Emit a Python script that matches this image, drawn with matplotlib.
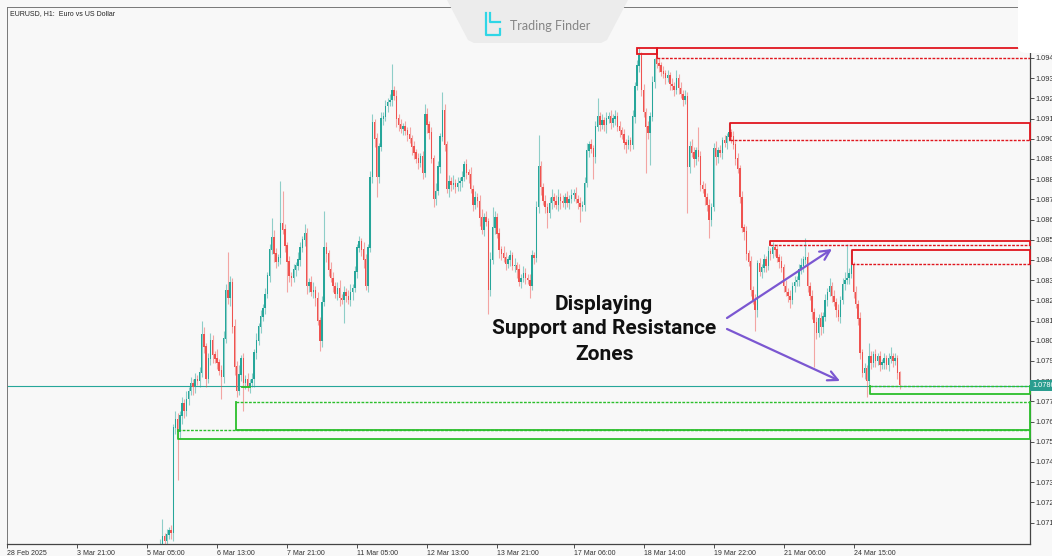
import numpy as np
import matplotlib.pyplot as plt
from matplotlib.patches import Polygon, Rectangle, FancyBboxPatch

# H1 candles, prices in pips above BASE (open = previous close)
BASE = 1.0700
FIRST_BAR = 70
first_open = 6
closes = [
    8, 12, 10, 13, 15, 14, 66, 70, 64, 72,
    78, 74, 80, 84, 88, 86, 90, 89, 93, 112,
    106, 90, 100, 109, 102, 100, 98, 94, 91, 110,
    134, 130, 138, 116, 96, 84, 92, 100, 88, 90,
    86, 88, 90, 103, 109, 116, 121, 125, 132, 141,
    154, 160, 152, 148, 150, 167, 164, 156, 148, 141,
    140, 144, 146, 149, 155, 159, 162, 136, 138, 133,
    134, 130, 119, 109, 128, 155, 152, 144, 140, 136,
    132, 135, 130, 129, 133, 131, 129, 133, 135, 143,
    155, 158, 154, 149, 136, 155, 190, 217, 209, 190,
    205, 219, 220, 225, 227, 228, 233, 230, 219, 216,
    214, 215, 213, 211, 209, 205, 202, 199, 197, 200,
    192, 221, 216, 212, 199, 179, 183, 195, 210, 223,
    206, 184, 188, 186, 187, 185, 187, 188, 190, 196,
    192, 191, 184, 176, 180, 178, 170, 164, 170, 168,
    134, 149, 165, 170, 162, 154, 152, 150, 147, 149,
    151, 146, 146, 144, 138, 140, 142, 140, 139, 136,
    151, 150, 175, 195, 185, 178, 175, 172, 177, 180,
    178, 176, 180, 178, 177, 180, 177, 179, 181, 182,
    179, 177, 175, 176, 187, 203, 206, 204, 200, 215,
    220, 216, 218, 216, 219, 220, 217, 219, 220, 215,
    213, 211, 207, 206, 208, 206, 220, 235, 245, 250,
    233, 222, 215, 212, 220, 237, 248, 246, 245, 242,
    241, 239, 240, 236, 235, 233, 239, 234, 231, 228,
    230, 195, 205, 202, 199, 203, 200, 186, 184, 180,
    176, 169, 175, 204, 200, 203, 202, 208, 207, 210,
    212, 210, 206, 199, 194, 180, 165, 163, 152, 148,
    134, 129, 124, 147, 143, 145, 149, 146, 153, 152,
    155, 154, 150, 148, 145, 136, 133, 131, 129, 136,
    138, 139, 144, 146, 149, 150, 136, 131, 123, 118,
    113, 120, 116, 121, 129, 133, 136, 131, 128, 124,
    121, 129, 137, 139, 140, 142, 146, 133, 127, 120,
    103, 93, 95, 89, 101, 98, 102, 99, 101, 97,
    98, 100, 97, 100, 101, 99, 100, 93, 87,
]
upper_wick = [
    3, 9, 2, 3, 2, 3, 2, 4, 3, 2,
    3, 2, 4, 2, 3, 2, 3, 2, 3, 7,
    4, 2, 3, 4, 3, 2, 5, 2, 3, 4,
    3, 19, 3, 2, 4, 3, 5, 2, 3, 2,
    3, 2, 3, 2, 4, 2, 3, 2, 3, 2,
    3, 10, 4, 3, 2, 21, 16, 3, 2, 3,
    2, 3, 2, 4, 3, 2, 5, 3, 2, 3,
    4, 2, 3, 2, 3, 18, 3, 2, 4, 3,
    2, 3, 4, 2, 3, 2, 3, 4, 2, 3,
    2, 3, 2, 4, 3, 2, 3, 4, 2, 3,
    2, 3, 2, 3, 2, 3, 13, 2, 3, 2,
    3, 2, 3, 2, 4, 2, 3, 2, 3, 2,
    3, 5, 3, 2, 3, 2, 4, 3, 2, 9,
    3, 2, 3, 2, 4, 2, 3, 2, 3, 2,
    3, 2, 4, 2, 3, 2, 3, 4, 2, 3,
    2, 4, 10, 3, 2, 3, 2, 4, 3, 2,
    3, 2, 4, 2, 3, 2, 4, 3, 2, 3,
    3, 2, 3, 16, 3, 2, 3, 2, 3, 4,
    2, 3, 4, 2, 3, 2, 3, 2, 3, 2,
    3, 2, 3, 2, 3, 4, 2, 3, 2, 3,
    9, 2, 3, 2, 3, 2, 3, 2, 3, 2,
    3, 2, 3, 2, 3, 2, 3, 2, 3, 4,
    2, 3, 2, 3, 2, 3, 1, 2, 3, 2,
    3, 2, 3, 2, 3, 2, 4, 2, 3, 2,
    3, 2, 3, 4, 3, 2, 12, 3, 2, 3,
    2, 3, 2, 3, 4, 2, 3, 2, 3, 2,
    5, 2, 3, 2, 3, 2, 3, 2, 3, 2,
    3, 2, 3, 2, 3, 2, 3, 2, 3, 2,
    3, 2, 3, 2, 3, 2, 3, 2, 3, 2,
    3, 2, 3, 4, 2, 10, 3, 2, 3, 2,
    3, 2, 3, 2, 3, 2, 4, 2, 3, 2,
    3, 2, 3, 4, 17, 3, 8, 2, 3, 2,
    3, 2, 3, 2, 7, 3, 2, 3, 2, 3,
    2, 3, 2, 3, 5, 2, 3, 2, 1,
]
lower_wick = [
    2, 3, 2, 3, 2, 3, 4, 3, 24, 3,
    4, 3, 2, 3, 2, 4, 3, 2, 3, 2,
    3, 4, 2, 3, 4, 2, 3, 2, 11, 3,
    2, 3, 4, 3, 4, 3, 2, 3, 14, 3,
    2, 3, 2, 4, 3, 2, 3, 2, 3, 2,
    3, 2, 4, 3, 2, 3, 2, 3, 15, 3,
    4, 2, 3, 2, 3, 2, 3, 4, 3, 2,
    3, 4, 2, 5, 3, 2, 4, 3, 2, 3,
    2, 3, 4, 2, 11, 3, 2, 3, 4, 2,
    3, 2, 3, 4, 2, 3, 2, 3, 4, 10,
    3, 2, 3, 2, 3, 2, 3, 2, 4, 3,
    2, 3, 2, 3, 2, 4, 3, 2, 3, 2,
    3, 2, 4, 3, 2, 4, 3, 2, 3, 2,
    3, 2, 4, 3, 2, 3, 2, 4, 3, 2,
    3, 4, 2, 3, 2, 3, 4, 2, 3, 2,
    12, 3, 2, 3, 2, 4, 3, 2, 3, 2,
    3, 2, 3, 4, 2, 3, 2, 3, 2, 6,
    2, 3, 2, 3, 4, 2, 3, 7, 2, 3,
    3, 2, 3, 4, 2, 3, 2, 3, 2, 3,
    2, 3, 7, 2, 3, 2, 3, 2, 11, 3,
    2, 3, 2, 3, 4, 2, 3, 2, 3, 2,
    3, 2, 3, 4, 2, 3, 2, 3, 2, 3,
    3, 2, 23, 3, 16, 2, 3, 2, 3, 2,
    2, 3, 2, 3, 2, 3, 2, 3, 2, 3,
    2, 23, 3, 2, 4, 3, 2, 3, 2, 4,
    3, 9, 3, 2, 4, 3, 2, 3, 2, 3,
    2, 3, 2, 3, 2, 3, 2, 4, 3, 2,
    3, 2, 10, 3, 2, 3, 2, 3, 2, 3,
    2, 3, 2, 3, 2, 3, 2, 3, 4, 2,
    3, 2, 3, 2, 3, 2, 3, 2, 3, 22,
    3, 2, 4, 3, 2, 3, 2, 3, 2, 3,
    2, 3, 2, 3, 2, 3, 2, 3, 2, 3,
    3, 2, 3, 8, 2, 3, 2, 3, 2, 3,
    2, 3, 2, 3, 2, 3, 2, 3, 2,
]

x_tick_bars = [0, 32, 64, 96, 128, 160, 192, 224, 259, 291, 323, 355, 387]
x_tick_labels = ['28 Feb 2025', '3 Mar 21:00', '5 Mar 05:00', '6 Mar 13:00',
                 '7 Mar 21:00', '11 Mar 05:00', '12 Mar 13:00', '13 Mar 21:00',
                 '17 Mar 06:00', '18 Mar 14:00', '19 Mar 22:00', '21 Mar 06:00',
                 '24 Mar 15:00']
price_ticks = [1.0719 + 0.001 * k for k in range(24)]

# zones: (start bar, top pips, bottom pips)
resistance_zones = [(297.1, 253.8, 248.9), (330.5, 216.8, 208.6),
                    (348.8, 158.2, 156.2), (386.3, 153.7, 147.0)]
support_zones = [(394.5, 86.6, 82.5), (104.7, 78.7, 64.6), (78.2, 64.6, 60.5)]
last_price = 1.07867

W, H = 1052, 556
BAR_PX = 2.1875
BULL, BEAR = '#26a69a', '#ef5350'
RED, GREEN = '#e0161e', '#2cbf2c'

plt.rcParams['font.family'] = ['Liberation Sans', 'DejaVu Sans']

fig = plt.figure(figsize=(W / 100, H / 100), dpi=100, facecolor='#f8f8f8')
ax = fig.add_axes([7 / W, 12 / H, 1023 / W, 537 / H], facecolor='#f8f8f8')
x_end = 1023 / BAR_PX
ax.set_xlim(0, x_end)
ax.set_ylim(1.07084, 1.09742)


def px(v):
    return BASE + v / 1e4


# candles
n = len(closes)
idx = np.arange(FIRST_BAR, FIRST_BAR + n)
c = px(np.array(closes, float))
o = np.r_[px(first_open), c[:-1]]
hi = np.maximum(o, c) + np.array(upper_wick) / 1e4
lo = np.minimum(o, c) - np.array(lower_wick) / 1e4
cols = np.where(c >= o, BULL, BEAR)
ax.vlines(idx, lo, hi, colors=cols, lw=0.8, alpha=0.5, zorder=2)
ax.bar(idx, np.abs(c - o) + 0.00003, bottom=np.minimum(o, c), width=0.65,
       color=cols, linewidth=0, zorder=3)

# current price line
ax.axhline(last_price, color=BULL, lw=0.8, zorder=1)

# resistance zones
for i, (start, top, bot) in enumerate(resistance_zones):
    t, b = px(top), px(bot)
    if i == 0:
        ax.plot([start, start, x_end], [b, t, t], color=RED, lw=1.3, zorder=4)
    else:
        ax.plot([start, start, x_end, x_end], [b, t, t, b], color=RED, lw=1.3,
                zorder=4, clip_on=False)
    ax.plot([start, x_end], [b, b], color=RED, lw=1.0, ls=(0, (2, 1)), zorder=4)
ax.add_patch(Rectangle((288.0, px(251.0)), 9.1, px(253.8) - px(251.0), fill=False,
                       ec=RED, lw=1.3, zorder=4))

# support zones
for start, top, bot in support_zones:
    t, b = px(top), px(bot)
    ax.plot([start, start, x_end, x_end], [t, b, b, t], color=GREEN, lw=1.3,
            zorder=4, clip_on=False)
    ax.plot([start, x_end], [t, t], color=GREEN, lw=1.0, ls=(0, (2, 1)), zorder=4)
ax.plot([107.4, 111.1], [px(86.1), px(86.1)], color=GREEN, lw=1.3, zorder=4)

# axes styling
ax.yaxis.tick_right()
ax.set_yticks(price_ticks)
ax.set_yticklabels([f'{p:.4f}' for p in price_ticks])
ax.set_xticks(x_tick_bars)
ax.set_xticklabels(x_tick_labels)
for lab in ax.get_xticklabels():
    lab.set_ha('left')
ax.tick_params(axis='y', length=3, width=0.6, color='#333333', labelsize=5.3,
               pad=1, labelcolor='#333333')
ax.tick_params(axis='x', length=3, width=0.6, color='#333333', labelsize=5,
               pad=1, labelcolor='#333333')
for side in ['left', 'top']:
    ax.spines[side].set_color('#777777')
    ax.spines[side].set_linewidth(0.7)
for side in ['right', 'bottom']:
    ax.spines[side].set_color('#444444')
    ax.spines[side].set_linewidth(0.9)

ax.text(1.0 + 2 / 1023, last_price, '1.0786', transform=ax.get_yaxis_transform(),
        fontsize=5.3, color='white', va='center', ha='left', clip_on=False, zorder=6,
        bbox=dict(boxstyle='square,pad=0.25', fc='#2a9d8f', ec='none'))

fig.text(10 / W, 1 - 14 / H, 'EURUSD, H1:  Euro vs US Dollar', fontsize=5,
         color='#222222', va='center')

# annotation
fig.text(604 / W, 1 - 329 / H, 'Displaying\nSupport and Resistance\nZones',
         ha='center', va='center', fontsize=15, fontweight='bold',
         family='Roboto', color='#111111', linespacing=1.4)
for tail, head in [((727, 318), (832, 249)), ((727, 329), (840, 381))]:
    ax.annotate('', xy=(head[0] / W, 1 - head[1] / H),
                xytext=(tail[0] / W, 1 - tail[1] / H),
                xycoords='figure fraction', textcoords='figure fraction',
                arrowprops=dict(arrowstyle='->,head_length=0.7,head_width=0.35',
                                color='#7b57d1', lw=1.6, shrinkA=0, shrinkB=0))

# watermark tab
tab = [(447, 0), (628, 0), (607, 40), (601, 43), (474, 43), (468, 40)]
fig.add_artist(Polygon([(x / W, 1 - y / H) for x, y in tab], closed=True,
                       fc='#ececec', ec='none', transform=fig.transFigure, zorder=10))
fig.text(550 / W, 1 - 26 / H, 'Trading Finder', fontsize=9, color='#858585',
         ha='center', va='center', family='Lato', zorder=11)
for pts in [[(486, 13), (486, 35), (500, 35), (500, 29)],
            [(490, 13), (490, 22), (500, 22)]]:
    fig.add_artist(plt.Line2D([x / W for x, y in pts], [1 - y / H for x, y in pts],
                              color='#2fd6e6', lw=1.6, transform=fig.transFigure,
                              zorder=11))
# white corner overlay at the top right (hides the ends of the top lines)
fig.add_artist(FancyBboxPatch((1018 / W, 1 - 53 / H), 40 / W, 60 / H,
                              boxstyle='round,pad=0,rounding_size=0.01',
                              fc='white', ec='none', transform=fig.transFigure,
                              zorder=10))

fig.savefig('out.png', dpi=100, facecolor=fig.get_facecolor())
